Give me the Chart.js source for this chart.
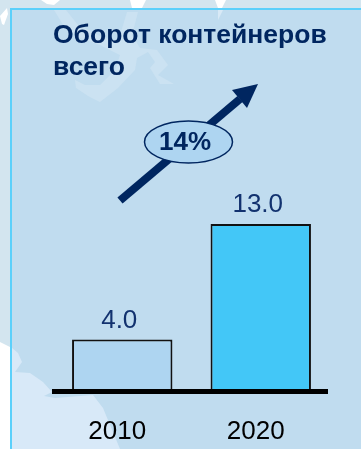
<!DOCTYPE html>
<html><head><meta charset="utf-8">
<style>html,body{margin:0;padding:0;background:#fff}#w{position:relative;width:361px;height:449px}canvas{display:block}</style>
<script src="https://cdn.jsdelivr.net/npm/chart.js@4"></script></head>
<body><div id="w"><canvas id="c" width="361" height="449"></canvas></div>
<script>
const categories = ['2010', '2020'];
const turnover = [4.0, 13.0];
const barColours = ['#aed5f1', '#43c7f7'];
const titleLines = ['Оборот контейнеров', 'всего'];
const growthLabel = '14%';
const NAVY = '#002660';
const FONT = '"Liberation Sans", Arial, sans-serif';

function poly(ctx, pts, fill) {
  ctx.beginPath();
  pts.forEach((p, i) => i ? ctx.lineTo(p[0], p[1]) : ctx.moveTo(p[0], p[1]));
  ctx.closePath(); ctx.fillStyle = fill; ctx.fill();
}
const backdrop = {
  id: 'backdrop',
  beforeDraw(chart) {
    const ctx = chart.ctx;
    ctx.save();
    ctx.fillStyle = '#d3e5ef'; ctx.fillRect(0, 0, 361, 449);
    poly(ctx, [[0,342],[10,347],[10,449],[0,449]], '#ffffff');
    poly(ctx, [[0,16],[7,8],[8,14],[4,25],[2,24]], '#ffffff');
    poly(ctx, [[41,0],[60,0],[54,5],[47,4]], '#ffffff');
    poly(ctx, [[130,0],[146,0],[142,8],[132,8]], '#ffffff');
    poly(ctx, [[215,0],[226,0],[222,8],[218,8]], '#ffffff');
    ctx.fillStyle = '#c0dcef'; ctx.fillRect(10, 8, 351, 441);
    poly(ctx, [[11,347],[18,353],[22,362],[15,372],[30,373],[43,382],[52,392],[44,396],[55,398],[93,395],[103,408],[120,449],[11,449]], '#d8e9f8');
    poly(ctx, [[54,10],[66,10],[78,25],[100,36],[118,42],[127,12],[138,12],[132,35],[140,48],[157,50],[168,65],[158,75],[174,84],[160,84],[150,68],[155,62],[148,52],[137,58],[135,70],[118,88],[100,102],[88,96],[76,88],[75,80],[85,85],[100,85],[115,70],[120,55],[100,45],[80,38],[65,28]], '#cbe2f2');
    poly(ctx, [[218,10],[223,10],[218,20]], '#d8e9f6');
    ctx.fillStyle = '#5bd0fb';
    ctx.fillRect(10, 8, 351, 2);
    ctx.fillRect(10, 8, 2, 441);
    // growth arrow and badge
    ctx.strokeStyle = NAVY; ctx.lineWidth = 8; ctx.beginPath();
    ctx.moveTo(120, 200.5); ctx.lineTo(240, 99); ctx.stroke();
    poly(ctx, [[258,84],[232,90],[247,108]], NAVY);
    ctx.beginPath(); ctx.ellipse(188.5, 142, 44, 21, 0, 0, Math.PI * 2);
    ctx.fillStyle = '#aed5f1'; ctx.fill();
    ctx.lineWidth = 1.5; ctx.stroke();
    ctx.fillStyle = NAVY; ctx.font = 'bold 26px ' + FONT;
    ctx.textAlign = 'center'; ctx.textBaseline = 'middle';
    ctx.fillText(growthLabel, 185, 143);
    // title
    ctx.textAlign = 'left'; ctx.textBaseline = 'alphabetic';
    ctx.font = 'bold 26.5px ' + FONT;
    titleLines.forEach((t, i) => ctx.fillText(t, 53, 43 + i * 32));
    ctx.restore();
  }
};
const valueLabels = {
  id: 'valueLabels',
  afterDatasetsDraw(chart) {
    const ctx = chart.ctx, meta = chart.getDatasetMeta(0), x = chart.scales.x;
    ctx.save();
    ctx.fillStyle = '#000000';
    ctx.fillRect(x.left - 1, x.top - 2, x.right - x.left - 1, 5);
    ctx.fillStyle = '#12326f'; ctx.font = '26px ' + FONT;
    ctx.textAlign = 'center'; ctx.textBaseline = 'alphabetic';
    meta.data.forEach((b, i) => ctx.fillText(turnover[i].toFixed(1), b.x - 3, b.y - 12));
    ctx.restore();
  }
};
new Chart(document.getElementById('c'), {
  type: 'bar',
  plugins: [backdrop, valueLabels],
  data: { labels: categories, datasets: [{
    data: turnover, backgroundColor: barColours,
    borderColor: '#111111', borderWidth: 2, borderSkipped: false,
    barPercentage: 0.725, categoryPercentage: 1
  }]},
  options: {
    responsive: false, animation: false, events: [],
    layout: { padding: { left: 53, right: 31, top: 10, bottom: 0 } },
    plugins: { legend: { display: false }, title: { display: false }, tooltip: { enabled: false } },
    scales: {
      x: {
        afterFit(s) { s.height = 58; },
        grid: { display: false, drawTicks: false },
        border: { display: false },
        ticks: { color: '#000000', font: { family: FONT, size: 26 }, padding: 25, maxRotation: 0, labelOffset: -5 }
      },
      y: { display: false, min: 0, max: 29.65 }
    }
  }
});
</script></body></html>
